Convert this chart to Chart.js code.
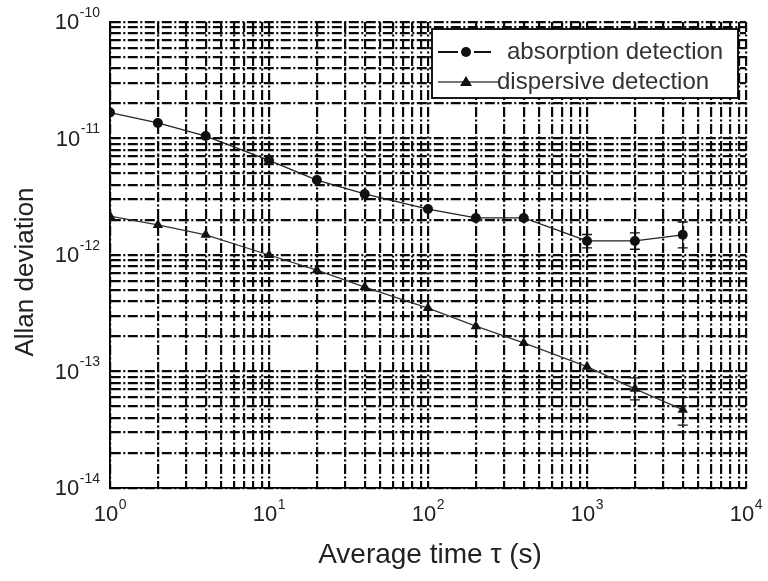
<!DOCTYPE html>
<html>
<head>
<meta charset="utf-8">
<script src="https://cdn.jsdelivr.net/npm/chart.js@4/dist/chart.umd.min.js"></script>
<style>
html,body{margin:0;padding:0;background:#fff;}
#wrap{width:768px;height:581px;position:relative;}
</style>
</head>
<body>
<div id="wrap"><canvas id="c" width="768" height="581"></canvas></div>
<script>
// ---- data ----
const tau = [1, 2, 4, 10, 20, 40, 100, 200, 400, 1000, 2000, 4000];
const absorption = [1.67e-11, 1.36e-11, 1.05e-11, 6.5e-12, 4.4e-12, 3.34e-12, 2.48e-12, 2.08e-12, 2.08e-12, 1.32e-12, 1.32e-12, 1.49e-12];
const dispersive = [2.16e-12, 1.81e-12, 1.49e-12, 1.0e-12, 7.4e-13, 5.3e-13, 3.5e-13, 2.45e-13, 1.76e-13, 1.1e-13, 7.1e-14, 4.7e-14];
// error bars (only where visible): [tau, low, high]
const absorptionErr = [[1000, 1.15e-12, 1.5e-12], [2000, 1.12e-12, 1.55e-12], [4000, 1.15e-12, 1.92e-12]];
const dispersiveErr = [[2000, 5.7e-14, 8.8e-14], [4000, 3.47e-14, 6.0e-14]];
const xDecadeExps = [0, 1, 2, 3, 4];
const yDecadeExps = [-14, -13, -12, -11, -10];
const seriesNames = ['absorption detection', 'dispersive detection'];
const xTitle = 'Average time \u03c4 (s)';
const yTitle = 'Allan deviation';

function decadeTicks(exps) {
  const out = [];
  for (let i = 0; i < exps.length; i++) {
    const base = Math.pow(10, exps[i]);
    out.push(base);
    if (i < exps.length - 1) for (let m = 2; m <= 9; m++) out.push(m * base);
  }
  return out;
}
const xTickVals = decadeTicks(xDecadeExps);
const yTickVals = decadeTicks(yDecadeExps);

const TEXT = '#222';
const FONT = '"Liberation Sans", Arial, sans-serif';

const gridOpts = { color: '#0a0a0a', lineWidth: 2.2, drawTicks: false };
const borderOpts = { display: true, color: '#000', width: 1.8, dash: [10, 2.5, 2, 2.5] };

const labelPlugin = {
  id: 'labels',
  beforeDatasetsDraw(chart) {
    const ctx = chart.ctx, xs = chart.scales.x, ys = chart.scales.y;
    ctx.save();
    ctx.strokeStyle = '#111';
    ctx.lineWidth = 1.3;
    const drawErr = (arr) => {
      arr.forEach(([t, lo, hi]) => {
        const px = xs.getPixelForValue(t);
        const y1 = ys.getPixelForValue(lo), y2 = ys.getPixelForValue(hi);
        ctx.beginPath();
        ctx.moveTo(px, y1); ctx.lineTo(px, y2);
        ctx.moveTo(px - 5, y1); ctx.lineTo(px + 5, y1);
        ctx.moveTo(px - 5, y2); ctx.lineTo(px + 5, y2);
        ctx.stroke();
      });
    };
    drawErr(absorptionErr);
    drawErr(dispersiveErr);
    ctx.restore();
  },
  afterDraw(chart) {
    const ctx = chart.ctx, xs = chart.scales.x, ys = chart.scales.y;
    ctx.save();
    ctx.fillStyle = TEXT;
    ctx.textBaseline = 'middle';
    const big = '22px ' + FONT, small = '14px ' + FONT;
    // x tick labels
    xDecadeExps.forEach(e => {
      const px = xs.getPixelForValue(Math.pow(10, e));
      ctx.font = big; const w1 = ctx.measureText('10').width;
      ctx.font = small; const w2 = ctx.measureText(String(e)).width;
      const x0 = px - (w1 + w2) / 2;
      ctx.textAlign = 'left';
      ctx.font = big; ctx.fillText('10', x0, 515);
      ctx.font = small; ctx.fillText(String(e), x0 + w1 + 0.5, 505);
    });
    // y tick labels
    yDecadeExps.forEach(e => {
      const py = ys.getPixelForValue(Math.pow(10, e));
      const s = String(e);
      ctx.font = small; const w2 = ctx.measureText(s).width;
      ctx.font = big; const w1 = ctx.measureText('10').width;
      const xr = 100;
      ctx.textAlign = 'left';
      ctx.font = big; ctx.fillText('10', xr - w2 - w1 - 0.5, py + 1);
      ctx.font = small; ctx.fillText(s, xr - w2, py - 9);
    });
    // axis titles
    ctx.font = '28px ' + FONT;
    ctx.textAlign = 'center';
    ctx.textBaseline = 'alphabetic';
    ctx.fillText(xTitle, 430, 563);
    ctx.save();
    ctx.translate(33, 272);
    ctx.rotate(-Math.PI / 2);
    ctx.font = '26px ' + FONT;
    ctx.fillText(yTitle, 0, 0);
    ctx.restore();
    // legend
    const lx = 432, ly = 29, lw = 306, lh = 69;
    ctx.fillStyle = '#fff';
    ctx.fillRect(lx, ly, lw, lh);
    ctx.strokeStyle = '#000';
    ctx.lineWidth = 1.8;
    ctx.strokeRect(lx, ly, lw, lh);
    // row 1
    ctx.strokeStyle = '#111'; ctx.lineWidth = 2;
    ctx.beginPath(); ctx.moveTo(438, 52); ctx.lineTo(458, 52); ctx.moveTo(474, 52); ctx.lineTo(491, 52); ctx.stroke();
    ctx.fillStyle = '#111';
    ctx.beginPath(); ctx.arc(466, 52, 5, 0, Math.PI * 2); ctx.fill();
    // row 2
    ctx.strokeStyle = '#777'; ctx.lineWidth = 2;
    ctx.beginPath(); ctx.moveTo(438, 82); ctx.lineTo(500, 82); ctx.stroke();
    ctx.fillStyle = '#111';
    ctx.beginPath(); ctx.moveTo(466, 76); ctx.lineTo(472, 86); ctx.lineTo(460, 86); ctx.closePath(); ctx.fill();
    ctx.fillStyle = '#333';
    ctx.font = '24px ' + FONT;
    ctx.textAlign = 'left';
    ctx.textBaseline = 'middle';
    ctx.fillText(seriesNames[0], 507, 52);
    ctx.fillText(seriesNames[1], 497, 82);
    ctx.restore();
  }
};

new Chart(document.getElementById('c'), {
  type: 'scatter',
  data: {
    datasets: [
      {
        label: seriesNames[0],
        data: tau.map((t, i) => ({ x: t, y: absorption[i] })),
        showLine: true,
        borderColor: '#222',
        borderWidth: 1.3,
        pointStyle: 'circle',
        pointRadius: 5,
        pointBackgroundColor: '#111',
        pointBorderColor: '#111',
        pointBorderWidth: 0
      },
      {
        label: seriesNames[1],
        data: tau.map((t, i) => ({ x: t, y: dispersive[i] })),
        showLine: true,
        borderColor: '#333',
        borderWidth: 1.3,
        pointStyle: 'triangle',
        pointRadius: 6,
        pointBackgroundColor: '#111',
        pointBorderColor: '#111',
        pointBorderWidth: 0
      }
    ]
  },
  options: {
    responsive: false,
    animation: false,
    devicePixelRatio: 1,
    layout: { padding: { left: 110, top: 22, right: 22, bottom: 93 } },
    plugins: { legend: { display: false }, tooltip: { enabled: false } },
    scales: {
      x: {
        type: 'logarithmic',
        min: 1, max: 1e4,
        grid: gridOpts,
        border: borderOpts,
        ticks: { display: false },
        afterBuildTicks(s) { s.ticks = xTickVals.map(v => ({ value: v })); }
      },
      y: {
        type: 'logarithmic',
        min: 1e-14, max: 1e-10,
        grid: gridOpts,
        border: borderOpts,
        ticks: { display: false },
        afterBuildTicks(s) { s.ticks = yTickVals.map(v => ({ value: v })); }
      }
    }
  },
  plugins: [labelPlugin]
});
</script>
</body>
</html>
